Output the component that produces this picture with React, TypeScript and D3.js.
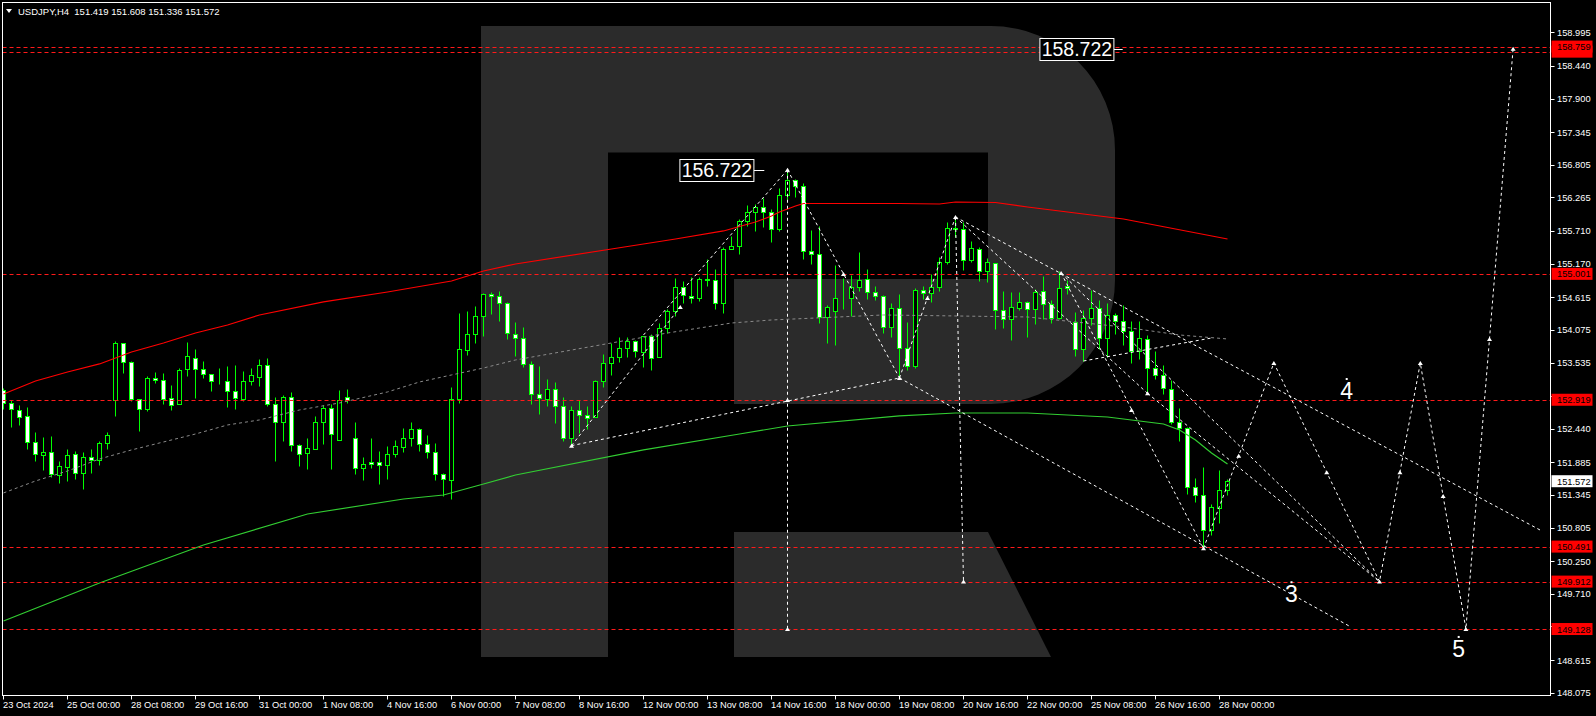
import * as d3 from 'd3';

const W = 1596;
const H = 716;
const FRAME = { left: 2.5, top: 2.5, right: 1550.5, bottom: 695.5 };
const FONT = '"Liberation Sans", Arial, sans-serif';
const CANDLE = '#00ff00';
const LOGO = '#2b2b2b';

// ── H4 candles, 23 Oct 16:00 → 28 Nov 04:00 ───────────────────────────
const opens = [
  153.081, 152.860, 152.745, 152.645, 152.216, 152.001, 152.050, 151.675, 151.802, 152.017,
  151.703, 151.968, 151.918, 152.199, 152.916, 153.852, 153.538, 152.927, 152.761, 153.274,
  153.241, 152.943, 152.844, 153.423, 153.604, 153.423, 153.340, 153.230, 153.224, 153.059,
  152.938, 153.224, 153.301, 153.488, 152.844, 152.557, 152.959, 152.166, 152.033, 152.110,
  152.546, 152.777, 152.259, 152.959, 152.281, 151.785, 151.885, 151.885, 151.835, 152.017,
  152.133, 152.281, 152.430, 152.182, 152.050, 151.686, 151.587, 152.926, 153.736, 154.001,
  154.299, 154.662, 154.629, 154.513, 154.001, 153.935, 153.505, 153.009, 152.926, 153.092,
  152.811, 152.282, 152.745, 152.662, 152.629, 153.224, 153.522, 153.621, 153.770, 153.885,
  153.704, 153.968, 153.621, 154.100, 154.381, 154.778, 154.629, 154.596, 154.894, 154.894,
  154.514, 155.407, 155.456, 155.870, 156.018, 156.101, 156.018, 155.738, 156.300, 156.548,
  156.449, 155.374, 155.324, 154.283, 154.382, 154.602, 154.597, 154.779, 154.911, 154.696,
  154.630, 154.117, 154.431, 153.770, 153.472, 154.729, 154.679, 154.779, 155.192, 155.749,
  155.738, 155.225, 155.407, 155.043, 155.175, 154.398, 154.250, 154.431, 154.531, 154.414,
  154.712, 154.497, 154.265, 154.794, 154.199, 153.764, 154.265, 154.430, 153.934, 154.315,
  154.216, 154.050, 153.720, 153.918, 153.438, 153.323, 153.091, 152.546, 152.446, 151.471,
  151.339, 150.760, 151.124, 151.419,
];
const highs = [
  153.108, 152.916, 152.827, 152.800, 152.386, 152.304, 152.320, 151.901, 152.105, 152.072,
  152.050, 152.105, 152.238, 152.386, 153.886, 153.863, 153.560, 152.938, 153.312, 153.379,
  153.362, 153.164, 153.439, 153.875, 153.759, 153.560, 153.351, 153.445, 153.478, 153.494,
  153.395, 153.439, 153.588, 153.610, 152.970, 152.998, 153.042, 152.193, 152.287, 152.651,
  152.833, 152.849, 153.081, 153.097, 152.551, 151.978, 152.287, 152.072, 152.155, 152.254,
  152.452, 152.551, 152.452, 152.336, 152.204, 151.708, 153.136, 154.354, 154.387, 154.469,
  154.679, 154.701, 154.712, 154.530, 154.205, 154.122, 153.560, 153.472, 153.257, 153.208,
  152.959, 152.811, 152.910, 152.811, 153.246, 153.670, 153.852, 153.952, 153.952, 153.902,
  153.979, 154.001, 154.183, 154.415, 154.927, 154.877, 154.944, 154.944, 155.241, 155.076,
  155.440, 155.622, 155.908, 156.134, 156.151, 156.250, 156.068, 156.421, 156.722, 156.564,
  156.498, 155.721, 155.787, 154.481, 155.142, 154.927, 154.977, 155.357, 155.076, 154.795,
  154.646, 154.514, 154.663, 154.200, 154.762, 154.795, 154.994, 155.286, 155.853, 155.936,
  155.853, 155.539, 155.440, 155.258, 155.186, 154.712, 154.696, 154.696, 154.547, 154.745,
  154.960, 154.563, 155.042, 154.893, 154.364, 154.397, 154.728, 154.563, 154.513, 154.348,
  154.480, 154.216, 154.216, 153.984, 153.731, 153.488, 153.240, 152.777, 152.474, 151.620,
  151.802, 151.190, 151.752, 151.608,
];
const lows = [
  152.761, 152.475, 152.508, 152.111, 151.912, 151.758, 151.648, 151.549, 151.582, 151.615,
  151.449, 151.703, 151.835, 152.100, 152.656, 153.367, 152.904, 152.408, 152.739, 153.202,
  152.855, 152.756, 152.844, 153.318, 152.954, 153.285, 153.070, 153.186, 152.805, 152.772,
  152.904, 153.164, 153.147, 152.821, 151.907, 152.237, 152.072, 151.829, 151.780, 152.110,
  152.193, 151.780, 152.248, 152.860, 151.697, 151.598, 151.796, 151.532, 151.614, 151.978,
  152.061, 152.160, 152.077, 151.962, 151.598, 151.333, 151.278, 152.871, 153.659, 153.863,
  153.979, 154.337, 154.227, 153.929, 153.648, 153.456, 152.855, 152.689, 152.816, 152.541,
  152.243, 152.160, 152.364, 152.441, 152.629, 153.125, 153.323, 153.544, 153.621, 153.632,
  153.467, 153.406, 153.621, 154.018, 154.299, 154.514, 154.514, 154.547, 154.795, 154.415,
  154.348, 155.407, 155.324, 155.787, 155.704, 155.770, 155.522, 155.705, 156.201, 156.278,
  155.253, 155.159, 154.183, 153.864, 153.831, 154.415, 154.299, 154.712, 154.580, 154.564,
  154.029, 153.952, 153.274, 153.406, 153.439, 154.580, 154.531, 154.724, 155.159, 155.616,
  155.060, 155.192, 154.878, 154.861, 154.084, 154.101, 153.902, 154.398, 153.963, 154.171,
  154.249, 154.182, 154.249, 154.662, 153.648, 153.560, 154.149, 153.764, 153.631, 154.001,
  153.830, 153.532, 153.598, 153.025, 153.257, 153.009, 152.512, 152.231, 151.355, 151.223,
  150.462, 150.677, 150.876, 151.336,
];
const closes = [
  152.860, 152.761, 152.640, 152.216, 152.017, 152.050, 151.686, 151.819, 152.001, 151.703,
  151.968, 151.918, 152.199, 152.331, 153.852, 153.538, 152.927, 152.761, 153.274, 153.241,
  152.938, 152.827, 153.406, 153.638, 153.423, 153.340, 153.224, 153.224, 153.059, 152.943,
  153.224, 153.323, 153.489, 152.844, 152.557, 152.959, 152.166, 152.017, 152.116, 152.546,
  152.777, 152.347, 152.910, 152.910, 151.785, 151.851, 151.851, 151.835, 152.017, 152.149,
  152.281, 152.430, 152.182, 152.050, 151.686, 151.603, 152.926, 153.753, 154.001, 154.299,
  154.662, 154.629, 154.513, 154.017, 153.946, 153.505, 153.009, 152.943, 153.092, 152.811,
  152.282, 152.745, 152.662, 152.612, 153.224, 153.522, 153.621, 153.770, 153.885, 153.720,
  153.968, 153.604, 154.100, 154.381, 154.778, 154.646, 154.596, 154.911, 154.911, 154.514,
  155.407, 155.456, 155.870, 156.018, 156.101, 156.018, 155.737, 156.300, 156.548, 156.449,
  155.374, 155.324, 154.283, 154.448, 154.597, 154.597, 154.779, 154.894, 154.696, 154.630,
  154.117, 154.431, 153.770, 153.472, 154.729, 154.679, 154.779, 155.192, 155.754, 155.754,
  155.225, 155.423, 155.043, 155.192, 154.398, 154.250, 154.448, 154.531, 154.415, 154.695,
  154.497, 154.265, 154.761, 154.761, 153.764, 154.265, 154.430, 153.934, 154.315, 154.216,
  154.050, 153.720, 153.934, 153.438, 153.323, 153.108, 152.546, 152.446, 151.471, 151.339,
  150.760, 151.140, 151.421, 151.572,
];

// ── Moving averages, sampled along the bars ───────────────────────────
const redMaBars = [0, 4, 8, 12, 16, 20, 24, 28, 32, 40, 48, 56, 60, 64, 76, 84, 90, 94, 96, 97, 99, 100, 112, 117, 119, 124, 128, 140, 153];
const redMaValues = [
  153.014, 153.229, 153.378, 153.511, 153.709, 153.858, 154.023, 154.155, 154.321, 154.536,
  154.701, 154.883, 155.048, 155.164, 155.412, 155.577, 155.710, 155.858, 155.958, 156.024,
  156.123, 156.164, 156.164, 156.156, 156.189, 156.181, 156.106, 155.908, 155.577,
];
const greenMaBars = [0, 12, 25, 38, 50, 55, 60, 64, 80, 92, 98, 112, 119, 128, 133, 138, 142, 145, 147, 149, 151, 153];
const greenMaValues = [
  149.261, 149.889, 150.518, 151.030, 151.278, 151.344, 151.526, 151.675, 152.089, 152.353,
  152.485, 152.651, 152.700, 152.700, 152.667, 152.634, 152.568, 152.518, 152.419, 152.254,
  152.039, 151.857,
];
const grayMaBars = [0, 4, 8, 12, 16, 20, 24, 28, 32, 37, 42, 48, 52, 56, 60, 64, 76, 83, 91, 96, 110, 128, 140, 147, 153];
const grayMaValues = [
  151.378, 151.576, 151.741, 151.940, 152.089, 152.221, 152.353, 152.502, 152.585, 152.750,
  152.866, 153.048, 153.213, 153.329, 153.444, 153.577, 153.858, 154.023, 154.188, 154.238,
  154.321, 154.288, 154.122, 153.990, 153.924,
];

// ── Axes ──────────────────────────────────────────────────────────────
const timeTickBars = [0, 8, 16, 24, 32, 40, 48, 56, 64, 72, 80, 88, 96, 104, 112, 120, 128, 136, 144, 152];
const timeTickLabels = [
  '23 Oct 2024', '25 Oct 00:00', '28 Oct 08:00', '29 Oct 16:00', '31 Oct 00:00',
  '1 Nov 08:00', '4 Nov 16:00', '6 Nov 00:00', '7 Nov 08:00', '8 Nov 16:00',
  '12 Nov 00:00', '13 Nov 08:00', '14 Nov 16:00', '18 Nov 00:00', '19 Nov 08:00',
  '20 Nov 16:00', '22 Nov 00:00', '25 Nov 08:00', '26 Nov 16:00', '28 Nov 00:00',
];
const priceTicks = [
  158.995, 158.440, 157.900, 157.345, 156.805, 156.265, 155.710, 155.170, 154.615, 154.075,
  153.535, 152.980, 152.440, 151.885, 151.345, 150.805, 150.250, 149.710, 149.170, 148.615, 148.075,
];
const levelPrices = [158.675, 158.759, 155.001, 152.919, 150.491, 149.912, 149.128];
const lastPrice = 151.572;
const header = 'USDJPY,H4  151.419 151.608 151.336 151.572';

// ── Forecast drawing (bar index, price) ───────────────────────────────
const pathBars = [150, 158.8, 172, 177.1, 182.8, 188.7];
const pathPrices = [150.462, 153.527, 149.912, 153.527, 149.128, 158.722];
const segments: [number, number, number, number][] = [
  [71, 152.160, 84.6, 154.453],
  [80, 153.990, 98, 156.722],
  [71, 152.160, 112, 153.279],
  [98, 156.722, 112, 153.279],
  [112, 153.279, 119, 155.941],
  [98, 156.722, 98, 149.128],
  [119, 155.941, 120, 149.912],
  [119, 155.941, 192.3, 150.749],
  [112, 153.279, 168.2, 149.178],
  [119, 155.941, 143, 153.025],
  [132.2, 155.015, 150, 150.462],
  [132.2, 155.015, 172, 149.912],
  [143, 153.025, 172, 149.912],
  [135, 153.560, 151, 153.940],
];
const markerBars = [71, 84.6, 98, 105, 112, 98, 115.5, 119, 132.2, 141, 143, 98, 120];
const markerPrices = [152.160, 154.453, 156.722, 155.000, 153.279, 152.915, 154.600, 155.941, 155.015, 152.750, 153.025, 149.128, 149.912];

const boxLabels = ['156.722', '158.722'];
const boxPrices = [156.722, 158.722];
const boxRightBars = [93.8, 138.8];
const boxLineEndBars = [95.1, 139.9];

const waveLabels = ['3', '4', '5'];
const waveBars = [161, 167.9, 181.9];
const wavePrices = [149.72, 153.08, 148.815];

const xScale = d3.scaleLinear().domain([0, 200]).range([3.5, 3.5 + 8 * 200]);
const yScale = d3.scaleLinear().domain([148.075, 158.995]).range([692.7, 32.3]);

const line = d3
  .line<[number, number]>()
  .x((d) => xScale(d[0]))
  .y((d) => yScale(d[1]));

const crisp = (v: number) => Math.round(v) + 0.5;

const zip = (a: number[], b: number[]) => a.map((v, k) => [v, b[k]] as [number, number]);

// Tick labels that sit under a level tag are covered in the terminal, so only the tick stays.
const hiddenByLevel = (p: number) => levelPrices.some((l) => Math.abs(yScale(l) - yScale(p)) < 7);

function Arrow({ x, y }: { x: number; y: number }) {
  return <path d={`M${x - 2.5},${y + 2} L${x},${y - 2} L${x + 2.5},${y + 2} Z`} fill="#fff" />;
}

export default function App() {
  const pathPts = zip(pathBars, pathPrices);
  const midPts = pathPts.slice(1).map((p, k) => [(p[0] + pathPts[k][0]) / 2, (p[1] + pathPts[k][1]) / 2] as [number, number]);

  return (
    <svg width={W} height={H} style={{ position: 'absolute', left: 0, top: 0, background: '#000', display: 'block' }}>
      <defs>
        <clipPath id="plot">
          <rect x={FRAME.left} y={FRAME.top} width={FRAME.right - FRAME.left} height={FRAME.bottom - FRAME.top} />
        </clipPath>
      </defs>
      <rect width={W} height={H} fill="#000" />

      <g clipPath="url(#plot)">
        {/* background logo */}
        <path
          d="M481,26 H991 A124,124 0 0 1 1115,150 V280 A124,124 0 0 1 991,404 H734 V279 H988 V152.6 H608 V657 H481 Z"
          fill={LOGO}
        />
        <path d="M734,532 H988 L1051,657 H734 Z" fill={LOGO} />

        {/* candles */}
        {opens.map((o, i) => {
          const c = closes[i];
          const x = xScale(i);
          const top = crisp(yScale(Math.max(o, c)));
          const bot = crisp(yScale(Math.min(o, c)));
          return (
            <g key={i}>
              <line x1={x} x2={x} y1={crisp(yScale(highs[i]))} y2={crisp(yScale(lows[i]))} stroke={CANDLE} />
              <rect
                x={x - 2}
                y={top}
                width={4}
                height={bot - top}
                fill={c >= o ? '#000' : '#fff'}
                stroke={CANDLE}
              />
            </g>
          );
        })}

        {/* moving averages */}
        <path d={line(zip(grayMaBars, grayMaValues)) ?? ''} fill="none" stroke="#8a8a8a" strokeDasharray="3,3" />
        <path d={line(zip(redMaBars, redMaValues)) ?? ''} fill="none" stroke="#ff0000" strokeWidth={1.2} />
        <path d={line(zip(greenMaBars, greenMaValues)) ?? ''} fill="none" stroke="#32cd32" strokeWidth={1.2} />

        {/* horizontal levels */}
        {levelPrices.map((p) => (
          <line
            key={p}
            x1={FRAME.left}
            x2={FRAME.right}
            y1={crisp(yScale(p))}
            y2={crisp(yScale(p))}
            stroke="#ff1a1a"
            strokeDasharray="4,3"
          />
        ))}

        {/* forecast lines */}
        {segments.map((s, k) => (
          <path
            key={k}
            d={line([[s[0], s[1]], [s[2], s[3]]]) ?? ''}
            fill="none"
            stroke="#fff"
            strokeDasharray="3,3"
          />
        ))}
        <path d={line(pathPts) ?? ''} fill="none" stroke="#fff" strokeDasharray="3,3" />
        {markerBars.map((b, k) => (
          <Arrow key={`m${k}`} x={xScale(b)} y={yScale(markerPrices[k])} />
        ))}
        {[...pathPts, ...midPts].map((p, k) => (
          <Arrow key={`p${k}`} x={xScale(p[0])} y={yScale(p[1])} />
        ))}

        {/* price boxes */}
        {boxLabels.map((t, k) => {
          const right = xScale(boxRightBars[k]);
          const y = yScale(boxPrices[k]);
          return (
            <g key={t}>
              <line x1={right} x2={xScale(boxLineEndBars[k])} y1={crisp(y)} y2={crisp(y)} stroke="#fff" />
              <rect x={right - 74} y={crisp(y - 11)} width={74} height={22} fill="#000" stroke="#fff" />
              <text x={right - 37} y={y + 7} textAnchor="middle" fill="#fff" fontFamily={FONT} fontSize={19.5}>
                {t}
              </text>
            </g>
          );
        })}

        {/* wave labels */}
        {waveLabels.map((t, k) => {
          const x = xScale(waveBars[k]);
          const y = yScale(wavePrices[k]);
          return (
            <g key={t}>
              <rect x={x - 1} y={y - 12} width={2} height={2} fill="#fff" />
              <text x={x} y={y + 9} textAnchor="middle" fill="#fff" fontFamily={FONT} fontSize={23}>
                {t}
              </text>
            </g>
          );
        })}
      </g>

      {/* frame */}
      <rect
        x={FRAME.left}
        y={FRAME.top}
        width={FRAME.right - FRAME.left}
        height={FRAME.bottom - FRAME.top}
        fill="none"
        stroke="#fff"
      />

      {/* header */}
      <path d="M6,9 L12,9 L9,13 Z" fill="#fff" />
      <text x={18} y={15} fill="#fff" fontFamily={FONT} fontSize={9.5} xmlSpace="preserve">
        {header}
      </text>

      {/* right price axis */}
      {priceTicks.map((p) => (
        <g key={p}>
          <line x1={FRAME.right} x2={FRAME.right + 4} y1={crisp(yScale(p))} y2={crisp(yScale(p))} stroke="#fff" />
          {!hiddenByLevel(p) && (
            <text x={1557} y={yScale(p) + 3.5} fill="#fff" fontFamily={FONT} fontSize={9.3}>
              {p.toFixed(3)}
            </text>
          )}
        </g>
      ))}
      {levelPrices.map((p, k) => (
        <g key={`l${p}`}>
          <rect x={1551.5} y={yScale(p) - 6} width={41} height={12} fill="#ff0000" />
          {(k > 0 || !hiddenByLevel(levelPrices[1])) && (
            <text x={1557} y={yScale(p) + 3.5} fill="#000" fontFamily={FONT} fontSize={9.3}>
              {p.toFixed(3)}
            </text>
          )}
        </g>
      ))}
      <rect x={1551.5} y={yScale(lastPrice) - 6} width={41} height={12} fill="#fff" />
      <text x={1557} y={yScale(lastPrice) + 3.5} fill="#000" fontFamily={FONT} fontSize={9.3}>
        {lastPrice.toFixed(3)}
      </text>

      {/* bottom time axis */}
      {timeTickBars.map((b, k) => (
        <g key={b}>
          <line x1={xScale(b)} x2={xScale(b)} y1={FRAME.bottom} y2={FRAME.bottom + 4} stroke="#fff" />
          <text x={xScale(b) - 0.5} y={708} fill="#fff" fontFamily={FONT} fontSize={9.3}>
            {timeTickLabels[k]}
          </text>
        </g>
      ))}
    </svg>
  );
}
